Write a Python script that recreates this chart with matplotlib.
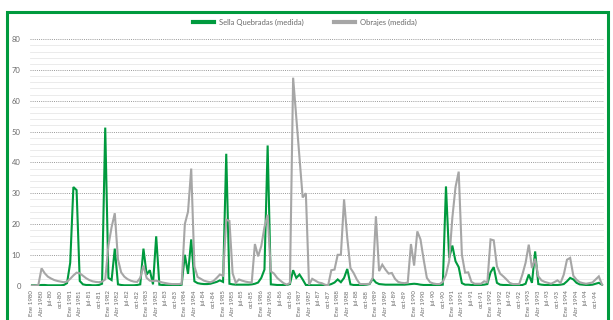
import numpy as np
import matplotlib
matplotlib.use("Agg")
import matplotlib.pyplot as plt
from matplotlib.lines import Line2D

# Monthly flow, January 1980 - December 1994
years = list(range(1980, 1995))

sella_quebradas = [
    0.1, 0.1, 0.1, 0.2, 0.2, 0.1, 0.1, 0.1, 0.1, 0.1, 0.2, 0.8,      # 1980
    7.4, 32.0, 31.0, 1.5, 0.4, 0.2, 0.2, 0.1, 0.1, 0.2, 0.6, 51.3,   # 1981
    2.5, 1.8, 12.0, 0.4, 0.2, 0.1, 0.1, 0.1, 0.1, 0.2, 0.4, 12.0,    # 1982
    3.6, 5.0, 0.4, 16.0, 0.3, 0.2, 0.1, 0.1, 0.1, 0.1, 0.1, 0.3,     # 1983
    10.0, 3.8, 15.0, 1.4, 0.8, 0.6, 0.5, 0.5, 0.6, 0.9, 1.2, 1.7,    # 1984
    1.2, 42.8, 0.6, 0.4, 0.3, 0.3, 0.3, 0.3, 0.3, 0.4, 0.6, 1.0,     # 1985
    2.5, 5.2, 45.5, 0.4, 0.3, 0.2, 0.2, 0.2, 0.2, 0.5, 5.0, 2.5,     # 1986
    3.6, 2.0, 0.2, 0.2, 0.1, 0.1, 0.1, 0.1, 0.1, 0.2, 0.5, 1.0,      # 1987
    2.0, 1.1, 2.5, 5.4, 0.4, 0.2, 0.2, 0.2, 0.2, 0.3, 0.5, 2.2,      # 1988
    1.0, 0.5, 0.4, 0.3, 0.3, 0.3, 0.3, 0.3, 0.3, 0.3, 0.4, 0.5,      # 1989
    0.6, 0.5, 0.3, 0.2, 0.2, 0.2, 0.1, 0.1, 0.2, 0.3, 32.2, 9.0,     # 1990
    13.0, 7.9, 6.0, 0.8, 0.3, 0.3, 0.2, 0.2, 0.2, 0.2, 0.3, 0.5,     # 1991
    4.3, 6.0, 0.9, 0.3, 0.2, 0.2, 0.1, 0.1, 0.1, 0.1, 0.2, 0.6,      # 1992
    3.6, 0.9, 11.1, 0.5, 0.3, 0.2, 0.2, 0.2, 0.2, 0.2, 0.3, 0.5,     # 1993
    1.4, 2.5, 2.0, 0.9, 0.4, 0.3, 0.2, 0.2, 0.3, 0.6, 0.9, 0.3,      # 1994
]

obrajes = [
    0.0, 0.0, 0.2, 5.6, 4.0, 2.9, 2.3, 1.8, 1.5, 1.3, 1.1, 1.3,      # 1980
    2.2, 3.3, 4.2, 4.0, 3.2, 2.4, 1.8, 1.4, 1.2, 1.1, 1.3, 2.0,      # 1981
    13.0, 19.0, 23.5, 8.5, 4.3, 2.9, 2.1, 1.6, 1.3, 1.2, 2.5, 6.5,   # 1982
    2.5, 1.6, 1.5, 1.6, 1.3, 1.0, 0.8, 0.6, 0.5, 0.5, 0.5, 0.6,      # 1983
    20.0, 24.0, 38.0, 6.3, 2.8, 2.2, 1.6, 1.3, 1.1, 1.5, 2.5, 3.6,   # 1984
    3.2, 21.4, 21.0, 4.0, 0.9, 2.0, 1.6, 1.3, 1.1, 1.0, 13.5, 9.5,   # 1985
    12.8, 19.0, 23.0, 4.6, 3.9, 2.5, 1.6, 0.8, 0.3, 0.9, 67.5, 54.5, # 1986
    41.5, 28.6, 30.0, 0.3, 2.2, 1.6, 1.0, 0.8, 0.3, 0.1, 5.0, 5.2,   # 1987
    10.0, 10.0, 28.0, 15.5, 5.7, 4.1, 2.0, 0.5, 0.5, 0.5, 0.6, 2.5,  # 1988
    22.5, 4.7, 6.8, 5.2, 3.9, 4.1, 2.2, 1.2, 0.9, 0.8, 1.0, 13.5,    # 1989
    6.5, 17.6, 15.0, 8.4, 2.5, 1.1, 0.7, 0.5, 0.5, 1.2, 3.5, 8.0,    # 1990
    22.0, 32.0, 37.0, 10.0, 4.2, 4.3, 1.2, 0.6, 0.6, 0.6, 1.4, 1.1,  # 1991
    15.0, 14.7, 6.3, 3.9, 3.0, 2.0, 0.9, 0.5, 0.5, 0.5, 3.6, 7.4,    # 1992
    13.3, 5.7, 8.7, 3.0, 1.7, 1.2, 0.9, 0.6, 1.1, 1.7, 0.9, 3.6,     # 1993
    8.4, 9.0, 3.2, 1.9, 1.1, 0.8, 0.6, 0.8, 1.0, 2.0, 3.0, 0.3,      # 1994
]

# One category label every quarter
tick_labels = []
for y in years:
    yy = f"{y % 100:02d}"
    tick_labels += [f"Ene {y}", f"Abr {y}", f"jul-{yy}", f"oct-{yy}"]

y_ticks = [0, 10, 20, 30, 40, 50, 60, 70, 80]

GREEN = "#009a3e"
GRAY = "#a6a6a6"
TEXT = "#6a6a6a"

plt.rcParams["font.family"] = ["Lato", "DejaVu Sans"]

W, H = 613, 320
fig = plt.figure(figsize=(W / 100, H / 100), dpi=100)
ax = fig.add_axes([30.4 / W, 1 - 285.6 / H, 573.2 / W, (285.6 - 39.2) / H])

months = np.arange(len(sella_quebradas))
ax.set_xlim(-0.5, len(months) - 0.5)
ax.set_ylim(0, 80)

# light minor grid every 2 units, dotted major grid every 10
ax.set_yticks(y_ticks)
ax.set_yticks(np.arange(0, 81, 2), minor=True)
ax.yaxis.grid(True, which="minor", color="#e8e8e8", lw=0.6)
ax.yaxis.grid(True, which="major", color="#9a9a9a", lw=0.7, ls=(0, (1, 1.2)))
ax.set_axisbelow(True)
ax.axhline(0, color="#c8c8c8", lw=0.9, zorder=1)

ax.plot(months, sella_quebradas, color=GREEN, lw=1.5, zorder=3,
        solid_joinstyle="miter")
ax.plot(months, obrajes, color=GRAY, lw=1.5, zorder=4,
        solid_joinstyle="miter")

ax.set_xticks(months[::3])
ax.set_xticklabels(tick_labels, rotation=90, fontsize=4.4, color=TEXT)
ax.set_yticklabels([str(v) for v in y_ticks], fontsize=5.5, color=TEXT)
ax.tick_params(axis="both", which="both", length=0)
ax.tick_params(axis="x", pad=3.5)
ax.tick_params(axis="y", pad=7)
for s in ax.spines.values():
    s.set_visible(False)

handles = [Line2D([], [], color=GREEN, lw=3),
           Line2D([], [], color=GRAY, lw=3)]
fig.legend(handles, ["Sella Quebradas (medida)", "Obrajes (medida)"],
           loc="center", bbox_to_anchor=(0.497, 1 - 22 / H), ncol=2,
           frameon=False, fontsize=5.5, handlelength=2.8,
           columnspacing=4.0, handletextpad=0.6, labelcolor=TEXT)

# green frame around the chart
fig.add_artist(Line2D([7 / W, 7 / W, 608 / W, 608 / W],
                      [0, 1 - 12 / H, 1 - 12 / H, 0],
                      transform=fig.transFigure, color=GREEN, lw=2.2,
                      solid_joinstyle="miter"))

fig.savefig("out.png", dpi=100, facecolor="white")
